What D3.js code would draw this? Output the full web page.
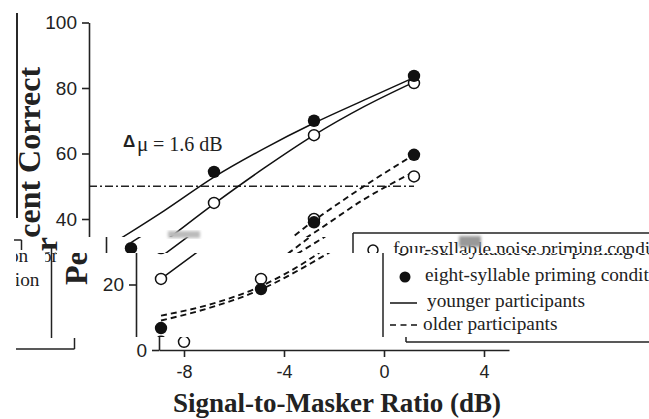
<!DOCTYPE html>
<html>
<head>
<meta charset="utf-8">
<script src="https://cdn.jsdelivr.net/npm/d3@7"></script>
<style>
  body { margin: 0; background: #fff; }
</style>
</head>
<body>
<script>
// measured points (dB, percent correct)
var snr = [-8, -4, 0, 4];
var youngFour = [21.7, 44.9, 65.6, 81.5];
var youngEight = [31.1, 54.4, 70, 83.7];
var olderFour = [2.5, 21.7, 40, 53];
var olderEight = [6.7, 18.6, 39, 59.6];

// fitted curves
var fitSnr = [-8, -6, -4, -2, 0, 2, 4];
var youngFourFit = [21.7, 33, 44.6, 55.5, 65.6, 74.3, 81.8];
var youngEightFit = [32.8, 42.5, 52.8, 61.5, 69.3, 76.3, 83.2];
var olderFourFit = [9, 13, 18.5, 26.5, 35.8, 46, 54.4];
var olderEightFit = [10.5, 14, 19.5, 28, 39.5, 50, 59.6];

var xTicks = [-8, -4, 0, 4];
var yTicks = [0, 20, 40, 60, 80, 100];
var criterion = 50;
var criterionRange = [-9, 4];
var legendLabels = ["four-syllable noise priming condition",
                    "eight-syllable priming condition",
                    "younger participants",
                    "older participants"];

var W = 649, H = 419;
var serif = "'Liberation Serif', 'Times New Roman', serif";
var sans = "'Liberation Sans', Arial, sans-serif";

var x = d3.scaleLinear().domain([-9, 5]).range([159, 509]);
var y = d3.scaleLinear().domain([0, 100]).range([350, 22.5]);

var svg = d3.select('body').append('svg')
    .attr('width', W)
    .attr('height', H);
svg.append('rect').attr('width', W).attr('height', H).attr('fill', '#fff');
var defs = svg.append('defs');
defs.append('filter').attr('id', 'smear')
    .append('feGaussianBlur').attr('stdDeviation', 1.5);

function pairs(xs, ys) {
    return xs.map(function(d, i) { return [d, ys[i]]; });
}

var line = d3.line()
    .x(function(d) { return x(d[0]); })
    .y(function(d) { return y(d[1]); })
    .curve(d3.curveMonotoneX);

function drawPlot(g) {
    var ya = g.append('g')
        .attr('transform', 'translate(' + x(-9) + ',0)')
        .call(d3.axisLeft(y).tickValues(yTicks).tickSize(7).tickPadding(5).tickSizeOuter(0));
    ya.attr('font-family', sans).attr('font-size', 19);
    ya.selectAll('path, line').attr('stroke', '#222').attr('stroke-width', 1.6);
    ya.selectAll('text').attr('fill', '#222');

    var xa = g.append('g')
        .attr('transform', 'translate(0,' + y(0) + ')')
        .call(d3.axisBottom(x).tickValues(xTicks).tickSize(7).tickPadding(8).tickSizeOuter(0)
              .tickFormat(function(d) { return String(d); }));
    xa.attr('font-family', sans).attr('font-size', 18);
    xa.selectAll('path, line').attr('stroke', '#222').attr('stroke-width', 1.6);
    xa.selectAll('text').attr('fill', '#222');

    g.append('text')
        .attr('transform', 'translate(110,176) rotate(-90)')
        .attr('text-anchor', 'middle')
        .attr('font-family', serif).attr('font-weight', 'bold').attr('font-size', 32)
        .attr('fill', '#222')
        .text('Percent Correct');

    g.append('text')
        .attr('x', 337).attr('y', 412)
        .attr('text-anchor', 'middle')
        .attr('font-family', serif).attr('font-weight', 'bold').attr('font-size', 27)
        .attr('fill', '#222')
        .text('Signal-to-Masker Ratio (dB)');

    g.append('line')
        .attr('x1', x(criterionRange[0])).attr('x2', x(criterionRange[1]))
        .attr('y1', y(criterion)).attr('y2', y(criterion))
        .attr('stroke', '#222').attr('stroke-width', 1.4)
        .attr('stroke-dasharray', '8,3,2,3');

    var note = g.append('g').attr('font-family', serif).attr('fill', '#222');
    note.append('text').attr('x', 193).attr('y', 147)
        .attr('font-family', sans).attr('font-weight', 'bold').attr('font-size', 17)
        .text('\u0394');
    note.append('text').attr('x', 207).attr('y', 151).attr('font-size', 21).text('\u03bc');
    note.append('text').attr('x', 223).attr('y', 151).attr('font-size', 20).text('= 1.6 dB');

    var curves = [
        { pts: youngFourFit, dash: null },
        { pts: youngEightFit, dash: null },
        { pts: olderFourFit, dash: '6,4' },
        { pts: olderEightFit, dash: '6,4' }
    ];
    curves.forEach(function(c) {
        g.append('path')
            .attr('d', line(pairs(fitSnr, c.pts)))
            .attr('fill', 'none')
            .attr('stroke', '#111')
            .attr('stroke-width', c.dash ? 1.9 : 1.5)
            .attr('stroke-dasharray', c.dash);
    });

    [youngFour, olderFour].forEach(function(vals) {
        g.selectAll(null).data(pairs(snr, vals)).enter().append('circle')
            .attr('cx', function(d) { return x(d[0]); })
            .attr('cy', function(d) { return y(d[1]); })
            .attr('r', 5.5)
            .attr('fill', '#fff').attr('stroke', '#111').attr('stroke-width', 1.5);
    });
    [youngEight, olderEight].forEach(function(vals) {
        g.selectAll(null).data(pairs(snr, vals)).enter().append('circle')
            .attr('cx', function(d) { return x(d[0]); })
            .attr('cy', function(d) { return y(d[1]); })
            .attr('r', 6.2)
            .attr('fill', '#111');
    });
}

function drawLegend(g, noRight) {
    var box = [406, 233, 723.5, 342];
    var edges = [[box[0], box[1], box[2], box[1]], [box[0], box[1], box[0], box[3]],
                 [box[0], box[3], box[2], box[3]]];
    if (!noRight) edges.push([box[2], box[1], box[2], box[3]]);
    edges.forEach(function(e) {
        g.append('line').attr('x1', e[0]).attr('y1', e[1]).attr('x2', e[2]).attr('y2', e[3])
            .attr('stroke', '#222').attr('stroke-width', 1.5);
    });
    var t = g.append('g').attr('font-family', serif).attr('font-size', 19.3).attr('fill', '#222');
    g.append('circle').attr('cx', 426).attr('cy', 250).attr('r', 5)
        .attr('fill', '#fff').attr('stroke', '#111').attr('stroke-width', 1.5);
    t.append('text').attr('x', 446).attr('y', 255).text(legendLabels[0]);
    g.append('circle').attr('cx', 428).attr('cy', 277).attr('r', 5.5).attr('fill', '#111');
    t.append('text').attr('x', 448).attr('y', 281).text(legendLabels[1]);
    g.append('line').attr('x1', 413).attr('x2', 440).attr('y1', 303).attr('y2', 303)
        .attr('stroke', '#111').attr('stroke-width', 1.5);
    t.append('text').attr('x', 450).attr('y', 307).text(legendLabels[2]);
    g.append('line').attr('x1', 413).attr('x2', 442).attr('y1', 325).attr('y2', 325)
        .attr('stroke', '#111').attr('stroke-width', 1.5).attr('stroke-dasharray', '6,4.5');
    t.append('text').attr('x', 446).attr('y', 330).text(legendLabels[3]);
}

// the scan is torn into horizontal strips, each slid left; overflow re-enters at the left
var nClip = 0;
function strip(rects, dx, dy, drawFn, opt) {
    var id = 'strip' + (nClip++);
    var cp = defs.append('clipPath').attr('id', id);
    rects.forEach(function(r) {
        cp.append('rect').attr('x', r[0]).attr('y', r[1]).attr('width', r[2]).attr('height', r[3]);
    });
    var g = svg.append('g').attr('clip-path', 'url(#' + id + ')')
        .append('g').attr('transform', 'translate(' + dx + ',' + dy + ')');
    drawFn(g, opt);
}

strip([[0, 0, W, 237]], -70, 0, drawPlot);
strip([[0, 237, W, 16]], -53, 0, drawPlot);
strip([[0, 253, W, 84]], -23, 0, drawPlot);
strip([[0, 337, W, 82]], 0, 0, drawPlot);

strip([[0, 0, W, 253]], -53, 0, drawLegend);
strip([[0, 253, W, 84]], -23, 0, drawLegend);
strip([[0, 337, W, 82]], 0, 0, drawLegend);
// wrapped pieces of the legend's right end
strip([[14, 238, 31, 12]], -53 - W, 7, drawLegend);
strip([[16, 250, 29, 14]], -56 - W, 7, drawLegend, true);
strip([[45, 248, 12, 90]], -23 - W, 7, drawLegend);
strip([[16, 264, 29, 74]], -8 - W, 5, drawLegend, true);
strip([[16, 338, 74, 22]], -W, 7, drawLegend);

// edge of the source page that wrapped round to the left
svg.append('line')
    .attr('x1', 17).attr('x2', 17).attr('y1', 13).attr('y2', 218)
    .attr('stroke', '#111').attr('stroke-width', 1.8);

// smudges left by the tear
svg.append('rect').attr('x', 168).attr('y', 231).attr('width', 32).attr('height', 7)
    .attr('fill', '#bbb').attr('filter', 'url(#smear)');
svg.append('rect').attr('x', 459).attr('y', 236).attr('width', 22).attr('height', 11)
    .attr('fill', '#999').attr('filter', 'url(#smear)');
</script>
</body>
</html>
